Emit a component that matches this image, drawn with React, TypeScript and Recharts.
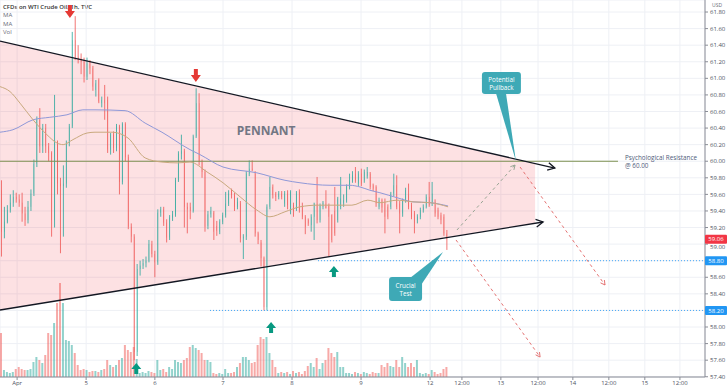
import React from 'react';
import {
  ComposedChart,
  Bar,
  Line,
  Area,
  XAxis,
  YAxis,
  CartesianGrid,
  ReferenceLine,
  ReferenceDot,
  Cell,
} from 'recharts';

// hourly candles
const opens = [
  59.65, 59.15, 59.27, 59.41, 59.5, 59.57, 59.54, 59.5, 59.37, 59.29, 59.45, 59.61, 59.97, 60.5, 60.18, 60.4,
  60.18, 60.1, 59.29, 60.22, 59.73, 59.7, 59.73, 60.22, 60.42, 61.46, 61.26, 61.22, 61.2, 61.02, 61.18, 61.12,
  60.86, 60.98, 60.7, 60.74, 60.74, 60.14, 60.32, 60.16, 60.42, 59.75, 60.45, 60.05, 59.21, 59.09, 57.7, 58.7,
  58.74, 58.77, 58.8, 59.0, 58.88, 58.78, 59.38, 59.42, 59.26, 59.08, 59.32, 59.36, 59.77, 60.09, 60.12, 59.45,
  59.45, 59.4, 60.3, 60.7, 59.99, 59.87, 59.22, 59.36, 59.38, 59.22, 59.15, 59.27, 59.35, 59.49, 59.65, 59.59,
  59.45, 59.49, 59.07, 59.09, 59.85, 59.91, 59.85, 59.13, 59.02, 58.83, 58.24, 59.45, 59.69, 59.61, 59.57, 59.61,
  59.49, 59.61, 59.4, 59.47, 59.43, 59.63, 59.45, 59.33, 59.29, 59.23, 59.33, 59.49, 59.29, 59.45, 59.49, 59.47,
  59.35, 59.4, 59.29, 59.45, 59.5, 59.53, 59.69, 59.77, 59.85, 59.73, 59.85, 59.77, 59.82, 59.85, 59.71, 59.69,
  59.45, 59.53, 59.51, 59.45, 59.45, 59.61, 59.71, 59.49, 59.37, 59.53, 59.6, 59.47, 59.37, 59.29, 59.33, 59.41,
  59.45, 59.57, 59.49, 59.51, 59.41, 59.35, 59.33, 59.13,
];
const highs = [
  59.77, 59.45, 59.47, 59.6, 59.65, 59.62, 59.6, 59.62, 59.45, 59.52, 59.66, 60.02, 60.54, 60.64, 60.45, 60.45,
  60.22, 60.12, 60.8, 60.25, 59.8, 59.95, 60.25, 60.45, 61.56, 61.75, 61.4, 61.3, 61.25, 61.25, 61.22, 61.15,
  60.98, 61.0, 60.78, 60.92, 60.78, 60.34, 60.36, 60.45, 60.44, 60.47, 60.47, 60.08, 59.25, 59.12, 58.76, 58.8,
  58.82, 58.85, 59.05, 59.04, 58.92, 59.42, 59.45, 59.45, 59.3, 59.35, 59.4, 59.8, 60.12, 60.32, 60.15, 59.5,
  59.5, 60.32, 60.88, 60.82, 60.02, 59.9, 59.4, 59.45, 59.4, 59.28, 59.3, 59.38, 59.63, 59.65, 59.67, 59.62,
  59.56, 59.52, 59.12, 59.88, 60.01, 60.01, 59.88, 59.15, 59.05, 58.85, 59.48, 59.81, 59.72, 59.63, 59.64, 59.64,
  59.64, 59.65, 59.65, 59.5, 59.64, 59.66, 59.5, 59.35, 59.31, 59.36, 59.5, 59.81, 59.49, 59.52, 59.65, 59.49,
  59.36, 59.69, 59.57, 59.81, 59.6, 59.72, 59.85, 59.88, 59.93, 59.88, 59.91, 59.9, 59.93, 59.87, 59.73, 59.71,
  59.56, 59.55, 59.55, 59.48, 59.63, 59.85, 59.83, 59.52, 59.55, 59.68, 59.73, 59.5, 59.4, 59.36, 59.44, 59.48,
  59.6, 59.75, 59.75, 59.54, 59.44, 59.38, 59.36, 59.17,
];
const lows = [
  58.85, 59.07, 59.25, 59.38, 59.45, 59.5, 59.45, 59.27, 59.22, 59.25, 59.4, 59.58, 59.93, 60.1, 60.1, 60.1,
  60.0, 59.09, 59.2, 59.6, 58.89, 59.09, 59.68, 60.18, 60.4, 61.22, 61.18, 61.05, 60.95, 60.98, 61.05, 60.85,
  60.78, 60.7, 60.65, 60.5, 60.1, 60.08, 60.1, 60.12, 59.6, 59.72, 60.0, 59.18, 59.02, 57.6, 57.65, 58.62,
  58.7, 58.72, 58.78, 58.84, 58.6, 58.75, 59.33, 59.22, 59.02, 59.05, 59.28, 59.33, 59.75, 60.02, 59.2, 59.13,
  59.3, 59.38, 60.28, 59.95, 59.8, 59.15, 59.18, 59.32, 59.05, 59.1, 59.12, 59.24, 59.32, 59.46, 59.55, 59.4,
  59.42, 59.02, 58.82, 59.05, 59.82, 59.88, 59.09, 59.0, 58.73, 58.2, 58.2, 59.42, 59.55, 59.52, 59.54, 59.54,
  59.45, 59.42, 59.36, 59.33, 59.4, 59.38, 59.3, 59.12, 59.22, 59.15, 59.05, 59.25, 59.26, 59.42, 59.43, 58.85,
  59.02, 59.1, 59.26, 59.42, 59.45, 59.5, 59.66, 59.74, 59.74, 59.7, 59.7, 59.74, 59.79, 59.66, 59.64, 59.45,
  59.42, 59.38, 59.13, 59.3, 59.42, 59.58, 59.42, 59.13, 59.33, 59.5, 59.42, 59.3, 59.13, 59.25, 59.3, 59.38,
  59.43, 59.45, 59.46, 59.33, 59.3, 59.24, 59.1, 58.93,
];
const closes = [
  59.15, 59.27, 59.41, 59.5, 59.57, 59.54, 59.5, 59.37, 59.29, 59.45, 59.61, 59.97, 60.5, 60.18, 60.4, 60.18,
  60.1, 59.29, 60.22, 59.73, 59.7, 59.73, 60.22, 60.42, 61.46, 61.26, 61.22, 61.2, 61.02, 61.18, 61.12, 60.9,
  60.94, 60.72, 60.74, 60.7, 60.14, 60.32, 60.16, 60.42, 59.75, 60.45, 60.05, 59.21, 59.09, 57.7, 58.7, 58.74,
  58.77, 58.8, 59.0, 58.88, 58.78, 59.38, 59.42, 59.26, 59.08, 59.32, 59.36, 59.77, 60.09, 60.12, 59.45, 59.42,
  59.4, 60.3, 60.7, 59.99, 59.87, 59.21, 59.36, 59.4, 59.15, 59.16, 59.27, 59.35, 59.49, 59.61, 59.59, 59.45,
  59.51, 59.07, 59.09, 59.85, 59.91, 59.9, 59.13, 59.05, 58.83, 58.24, 59.45, 59.69, 59.59, 59.57, 59.61, 59.57,
  59.61, 59.47, 59.63, 59.4, 59.61, 59.41, 59.33, 59.21, 59.25, 59.33, 59.49, 59.29, 59.47, 59.5, 59.43, 59.33,
  59.05, 59.13, 59.55, 59.55, 59.53, 59.69, 59.77, 59.83, 59.77, 59.85, 59.73, 59.87, 59.87, 59.69, 59.67, 59.49,
  59.53, 59.44, 59.33, 59.33, 59.61, 59.71, 59.45, 59.37, 59.53, 59.65, 59.45, 59.33, 59.25, 59.33, 59.41, 59.45,
  59.57, 59.47, 59.61, 59.37, 59.33, 59.29, 59.13, 59.06,
];
const volumes = [
  44, 7, 5, 4, 5, 8, 10, 8, 7, 7, 8, 15, 20, 17, 14, 22, 44, 42, 54, 74, 94, 74, 37, 36, 32, 24, 12, 7, 8, 7, 5, 6,
  6, 5, 7, 8, 17, 12, 10, 12, 17, 19, 32, 27, 25, 30, 18, 4, 5, 4, 6, 5, 4, 17, 7, 8, 5, 10, 8, 17, 15, 14, 17, 19,
  30, 32, 29, 27, 24, 17, 17, 15, 4, 3, 4, 3, 8, 4, 4, 5, 10, 14, 20, 20, 17, 14, 15, 32, 40, 38, 40, 24, 17, 10, 4, 5,
  4, 5, 3, 6, 4, 5, 3, 6, 11, 14, 10, 19, 8, 14, 17, 29, 24, 20, 25, 10, 10, 4, 4, 3, 5, 4, 3, 5, 4, 3, 5, 4, 4,
  12, 10, 14, 11, 10, 17, 10, 20, 14, 10, 14, 10, 17, 4, 3, 4, 3, 7, 5, 3, 4, 8, 10,
];

// moving averages (sampled along the curve)
const maSlowT = [0, 4.4, 11.2, 16.9, 22.7, 28.1, 32.2, 42.4, 49.2, 54.9, 64.4, 67.8, 75.6, 87.1, 96.6, 101.7, 111.9, 118.6, 122, 125.4, 128.8, 134.6, 140, 145.8, 151.9];
const maSlowV = [60.35, 60.38, 60.5, 60.53, 60.56, 60.62, 60.62, 60.61, 60.46, 60.35, 60.14, 60.08, 59.93, 59.86, 59.77, 59.74, 59.71, 59.71, 59.69, 59.65, 59.62, 59.56, 59.51, 59.5, 59.46];
const maFastT = [0, 3.4, 6.8, 11.2, 15.9, 19.3, 21.4, 24.7, 29.5, 32.2, 38, 43.4, 49.2, 54.9, 60.3, 64.4, 70.2, 75.6, 81.4, 87.1, 91.5, 96.6, 101.7, 107.8, 113.6, 119.3, 124.7, 128.8, 134.6, 140, 145.8, 151.9];
const maFastV = [60.9, 60.84, 60.7, 60.5, 60.32, 60.22, 60.2, 60.26, 60.34, 60.35, 60.35, 60.28, 60.04, 59.99, 59.98, 59.99, 59.87, 59.74, 59.57, 59.41, 59.33, 59.39, 59.45, 59.47, 59.47, 59.47, 59.53, 59.5, 59.53, 59.51, 59.5, 59.45];

// pennant drawing
const pennantT = [0, 181.4];
const pennantLow = [58.205, 59.255];
const pennantHigh = [61.45, 59.966];

const dateTicks = [5.8, 29.2, 52.5, 75.6, 99, 122.4, 145.8, 156.6, 169.8, 182.4, 194.2, 206.4, 218.6, 230.5];
const dateLabels = ['Apr', '5', '6', '7', '8', '9', '12', '12:00', '13', '12:00', '14', '12:00', '15', '12:00'];
const priceTicks = [57.4, 57.6, 57.8, 58.0, 58.2, 58.4, 58.6, 58.8, 59.0, 59.2, 59.4, 59.6, 59.8, 60.0, 60.2, 60.4, 60.6, 60.8, 61.0, 61.2, 61.4, 61.6, 61.8];
// the axis labels hidden behind price badges
const badgedTicks = [58.2, 58.8];
const lastPrice = 59.06;

const UP = '#26a69a';
const DOWN = '#ef5350';
const TEAL = '#3ea9b6';
const FONT = '"Open Sans", "Noto Sans", sans-serif';

const candles = opens.map((o, i) => ({
  t: i + 0.5,
  o,
  h: highs[i],
  l: lows[i],
  c: closes[i],
  range: [lows[i], highs[i]],
  vol: volumes[i],
}));
const maSlow = maSlowT.map((t, i) => ({ t, v: maSlowV[i] }));
const maFast = maFastT.map((t, i) => ({ t, v: maFastV[i] }));
const pennant = pennantT.map((t, i) => ({ t, band: [pennantLow[i], pennantHigh[i]] }));

const Candle = (props: any) => {
  const { x, width, payload } = props;
  let { y, height } = props;
  if (!payload || y == null) return null;
  if (height < 0) {
    y += height;
    height = -height;
  }
  const { o, h, l, c } = payload;
  const k = height / (h - l || 0.0001);
  const py = (p: number) => y + (h - p) * k;
  const color = c >= o ? UP : DOWN;
  const top = py(Math.max(o, c));
  const bh = Math.max(1, py(Math.min(o, c)) - top);
  const cx = x + width / 2;
  return (
    <g>
      <line x1={cx} x2={cx} y1={y} y2={y + height} stroke={color} strokeWidth={0.8} />
      <rect x={x} y={top} width={width} height={bh} fill={color} />
    </g>
  );
};

// price axis label; the one right under the last-price badge is nudged down
const PriceTick = (props: any) => {
  const { x, y, payload } = props;
  const v = payload?.value;
  if (v == null || badgedTicks.includes(v)) return null;
  const nudge = Math.abs(v - lastPrice) < 0.1 ? 2.6 : 0;
  return (
    <text x={x} y={y + nudge} dy="0.355em" fontSize={6} fill="#4c525e" textAnchor="start" fontFamily={FONT}>
      {v.toFixed(2)}
    </text>
  );
};

const arrowLine = (color: string, dash?: string, width = 1.2, head = 8) => (p: any) => {
  const { x1, y1, x2, y2 } = p;
  const a = Math.atan2(y2 - y1, x2 - x1);
  const s = 0.5;
  const h1 = [x2 - head * Math.cos(a - s), y2 - head * Math.sin(a - s)];
  const h2 = [x2 - head * Math.cos(a + s), y2 - head * Math.sin(a + s)];
  return (
    <g>
      <line x1={x1} y1={y1} x2={x2} y2={y2} stroke={color} strokeWidth={width} strokeDasharray={dash} />
      <polyline
        points={`${h1[0]},${h1[1]} ${x2},${y2} ${h2[0]},${h2[1]}`}
        fill="none"
        stroke={color}
        strokeWidth={width}
      />
    </g>
  );
};

const DownArrow = (p: any) => (
  <path d={`M${p.cx - 2},${p.cy - 13} h4 v6 h3 l-5,7 l-5,-7 h3 z`} fill="#e53935" />
);
const UpArrow = (p: any) => (
  <path d={`M${p.cx},${p.cy} l5,6 h-3 v5 h-4 v-5 h-3 z`} fill="#089981" />
);

const PullbackCallout = (p: any) => {
  const { cx, cy } = p;
  return (
    <g fontFamily={FONT}>
      <polygon points={`${cx - 20},${cy - 68} ${cx - 10},${cy - 68} ${cx},${cy}`} fill={TEAL} />
      <rect x={cx - 34} y={cy - 89} width={39} height={22} rx={3} fill={TEAL} />
      <text x={cx - 14.5} y={cy - 79} fontSize={6.3} fill="#fff" textAnchor="middle">Potential</text>
      <text x={cx - 14.5} y={cy - 71} fontSize={6.3} fill="#fff" textAnchor="middle">Pullback</text>
    </g>
  );
};

const CrucialCallout = (p: any) => {
  const { cx, cy } = p;
  return (
    <g fontFamily={FONT}>
      <polygon points={`${cx - 33},${cy + 26} ${cx - 22},${cy + 33} ${cx},${cy}`} fill={TEAL} />
      <rect x={cx - 54} y={cy + 25} width={33} height={24} rx={3} fill={TEAL} />
      <text x={cx - 37.5} y={cy + 36} fontSize={6.3} fill="#fff" textAnchor="middle">Crucial</text>
      <text x={cx - 37.5} y={cy + 44} fontSize={6.3} fill="#fff" textAnchor="middle">Test</text>
    </g>
  );
};

const PennantLabel = (p: any) => (
  <text x={p.cx} y={p.cy + 4} fontSize={12} fontWeight={700} fill="#737784" textAnchor="middle" fontFamily={FONT}>
    PENNANT
  </text>
);

const ResistanceLabel = (p: any) => (
  <g fontFamily={FONT} fontSize={6.3} fill="#4f5b7a">
    <text x={p.cx} y={p.cy - 1}>Psychological Resistance</text>
    <text x={p.cx} y={p.cy + 7}>@ 60.00</text>
  </g>
);

const badge = (color: string, text: string) => (p: any) => (
  <g fontFamily={FONT}>
    <rect x={p.cx} y={p.cy - 4.5} width={22} height={9} rx={1} fill={color} />
    <text x={p.cx + 11} y={p.cy + 2.1} fontSize={6} fill="#fff" textAnchor="middle">{text}</text>
  </g>
);

const legendStyle: React.CSSProperties = {
  position: 'absolute',
  left: 3,
  fontFamily: FONT,
  fontSize: 6,
  lineHeight: '8px',
  color: '#6a6d78',
};

export default function App() {
  return (
    <div style={{ position: 'absolute', left: 0, top: 0, width: 728, height: 391, background: '#fff', overflow: 'hidden' }}>
      <div style={{ ...legendStyle, top: 3, fontWeight: 600, color: '#333' }}>CFDs on WTI Crude Oil, 1h, TVC</div>
      <div style={{ ...legendStyle, top: 11 }}>MA</div>
      <div style={{ ...legendStyle, top: 20 }}>MA</div>
      <div style={{ ...legendStyle, top: 28 }}>Vol</div>
      <div style={{ position: 'absolute', left: 712, top: 2, fontFamily: FONT, fontSize: 5, color: '#6a6d78' }}>USD</div>
      <div style={{ position: 'absolute', left: 0, top: 0 }}>
        <ComposedChart
          width={728}
          height={391}
          data={candles}
          margin={{ top: 0, right: 0, bottom: 0, left: 0 }}
          style={{ fontFamily: FONT }}
        >
          <CartesianGrid xAxisId="main" yAxisId="price" stroke="#eef0f5" />
          <XAxis
            xAxisId="main"
            type="number"
            dataKey="t"
            domain={[0, 239]}
            allowDataOverflow
            ticks={dateTicks}
            interval={0}
            tickFormatter={(v: number) => dateLabels[dateTicks.indexOf(v)] ?? ''}
            height={14}
            tick={{ fontSize: 6, fill: '#4c525e' }}
            tickSize={3}
            tickMargin={1}
            axisLine={{ stroke: '#8a8d96' }}
            tickLine={{ stroke: '#8a8d96' }}
          />
          <XAxis xAxisId="vol" type="number" dataKey="t" domain={[0, 239]} allowDataOverflow hide />
          <YAxis
            yAxisId="price"
            orientation="right"
            width={23}
            domain={[57.397, 61.945]}
            allowDataOverflow
            ticks={priceTicks}
            interval={0}
            tick={PriceTick}
            tickSize={3}
            tickMargin={2}
            axisLine={{ stroke: '#8a8d96' }}
            tickLine={{ stroke: '#8a8d96' }}
          />
          <YAxis yAxisId="vol" domain={[0, 377]} allowDataOverflow hide />

          <Area
            data={pennant}
            xAxisId="main"
            yAxisId="price"
            dataKey="band"
            type="linear"
            stroke="none"
            fill="#f23645"
            fillOpacity={0.15}
            dot={false}
            activeDot={false}
            isAnimationActive={false}
          />

          <ReferenceLine
            xAxisId="main"
            yAxisId="price"
            segment={[{ x: 0, y: 60 }, { x: 209.5, y: 60 }]}
            stroke="#7d9150"
            strokeWidth={1.2}
            ifOverflow="visible"
          />
          <ReferenceLine
            xAxisId="main"
            yAxisId="price"
            segment={[{ x: 107.8, y: 58.8 }, { x: 239, y: 58.8 }]}
            stroke="#42a5f5"
            strokeDasharray="1 2"
            ifOverflow="visible"
          />
          <ReferenceLine
            xAxisId="main"
            yAxisId="price"
            segment={[{ x: 71.2, y: 58.2 }, { x: 239, y: 58.2 }]}
            stroke="#42a5f5"
            strokeDasharray="1 2"
            ifOverflow="visible"
          />

          <Bar xAxisId="vol" yAxisId="vol" dataKey="vol" barSize={2} activeBar={false} isAnimationActive={false}>
            {candles.map((d, i) => (
              <Cell key={`v-${i}`} fill={d.c >= d.o ? 'rgba(38,166,154,0.5)' : 'rgba(239,83,80,0.5)'} />
            ))}
          </Bar>
          <Bar xAxisId="main" yAxisId="price" dataKey="range" barSize={2} shape={Candle} activeBar={false} isAnimationActive={false} />

          <Line data={maSlow} xAxisId="main" yAxisId="price" dataKey="v" type="monotone" stroke="#8f98d8" strokeWidth={1} dot={false} activeDot={false} isAnimationActive={false} />
          <Line data={maFast} xAxisId="main" yAxisId="price" dataKey="v" type="monotone" stroke="#c9a97e" strokeWidth={1} dot={false} activeDot={false} isAnimationActive={false} />

          <ReferenceLine
            xAxisId="main"
            yAxisId="price"
            segment={[{ x: 0, y: 61.45 }, { x: 188.1, y: 59.918 }]}
            shape={arrowLine('#131722', undefined, 1.3, 8)}
            ifOverflow="visible"
          />
          <ReferenceLine
            xAxisId="main"
            yAxisId="price"
            segment={[{ x: 0, y: 58.205 }, { x: 184.1, y: 59.267 }]}
            shape={arrowLine('#131722', undefined, 1.3, 8)}
            ifOverflow="visible"
          />
          <ReferenceLine
            xAxisId="main"
            yAxisId="price"
            segment={[{ x: 154.9, y: 59.17 }, { x: 174.6, y: 59.954 }]}
            shape={arrowLine('#98a594', '3 3', 1, 5)}
            ifOverflow="visible"
          />
          <ReferenceLine
            xAxisId="main"
            yAxisId="price"
            segment={[{ x: 154.6, y: 59.05 }, { x: 183.1, y: 57.638 }]}
            shape={arrowLine('#e57373', '3 3', 1, 5)}
            ifOverflow="visible"
          />
          <ReferenceLine
            xAxisId="main"
            yAxisId="price"
            segment={[{ x: 176.3, y: 59.93 }, { x: 205.1, y: 58.507 }]}
            shape={arrowLine('#e57373', '3 3', 1, 5)}
            ifOverflow="visible"
          />

          <ReferenceDot xAxisId="main" yAxisId="price" x={23.7} y={61.728} shape={DownArrow} ifOverflow="visible" />
          <ReferenceDot xAxisId="main" yAxisId="price" x={66.4} y={60.956} shape={DownArrow} ifOverflow="visible" />
          <ReferenceDot xAxisId="main" yAxisId="price" x={46.2} y={57.566} shape={UpArrow} ifOverflow="visible" />
          <ReferenceDot xAxisId="main" yAxisId="price" x={91.9} y={58.06} shape={UpArrow} ifOverflow="visible" />
          <ReferenceDot xAxisId="main" yAxisId="price" x={113.2} y={58.736} shape={UpArrow} ifOverflow="visible" />

          <ReferenceDot xAxisId="main" yAxisId="price" x={90.2} y={60.364} shape={PennantLabel} ifOverflow="visible" />
          <ReferenceDot xAxisId="main" yAxisId="price" x={211.9} y={60} shape={ResistanceLabel} ifOverflow="visible" />
          <ReferenceDot xAxisId="main" yAxisId="price" x={174.9} y={60.003} shape={PullbackCallout} ifOverflow="visible" />
          <ReferenceDot xAxisId="main" yAxisId="price" x={150.2} y={58.905} shape={CrucialCallout} ifOverflow="visible" />

          <ReferenceDot xAxisId="main" yAxisId="price" x={239} y={lastPrice} shape={badge('#f23645', '59.06')} ifOverflow="visible" />
          <ReferenceDot xAxisId="main" yAxisId="price" x={239} y={58.8} shape={badge('#2196f3', '58.80')} ifOverflow="visible" />
          <ReferenceDot xAxisId="main" yAxisId="price" x={239} y={58.2} shape={badge('#2196f3', '58.20')} ifOverflow="visible" />
        </ComposedChart>
      </div>
    </div>
  );
}
